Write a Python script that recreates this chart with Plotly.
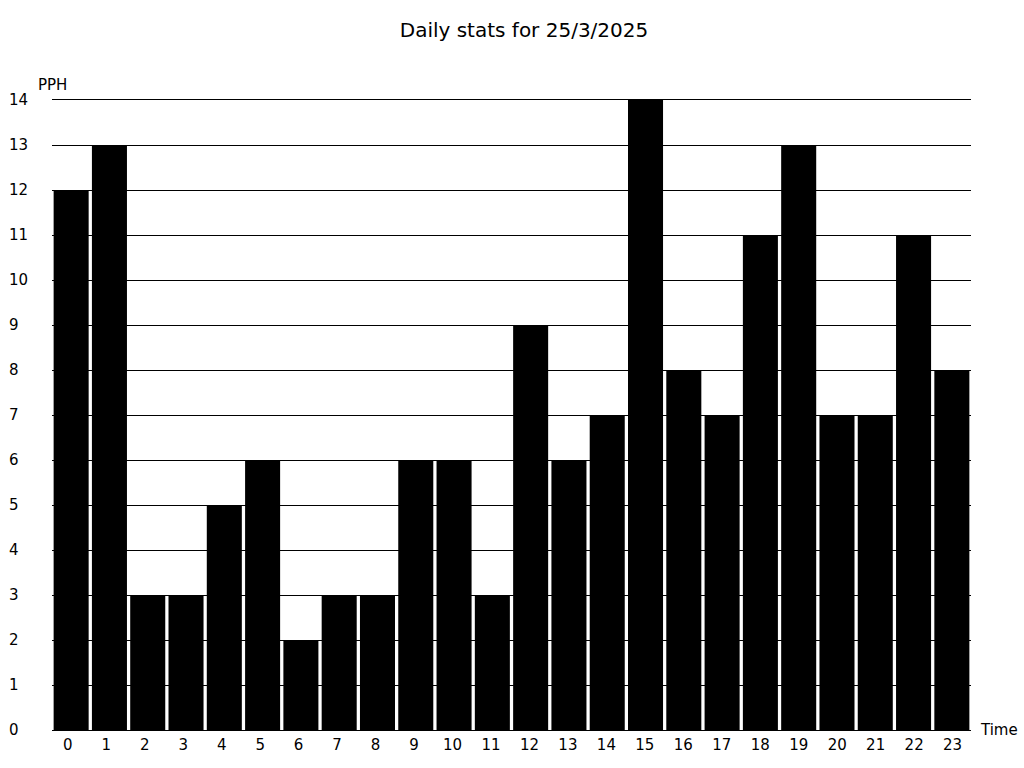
import plotly.graph_objects as go

hours = [str(h) for h in range(24)]
pph = [12, 13, 3, 3, 5, 6, 2, 3, 3, 6, 6, 3, 9, 6, 7, 14, 8, 7, 11, 13, 7, 7, 11, 8]
y_ticks = list(range(15))
y_ticktext = [f"{v}" if v >= 10 else f"{v}\u2007" for v in y_ticks]

FONT = "DejaVu Sans"

fig = go.Figure(
    go.Bar(
        x=hours,
        y=pph,
        marker=dict(color="black", line=dict(width=0)),
        hoverinfo="x+y",
    )
)

fig.update_layout(
    template="none",
    width=1024,
    height=768,
    margin=dict(l=52, r=53, t=100, b=38, pad=0),
    paper_bgcolor="white",
    plot_bgcolor="white",
    bargap=0.085,
    showlegend=False,
    font=dict(family=FONT, size=15, color="black"),
    title=dict(
        text="Daily stats for 25/3/2025",
        x=524 / 1024,
        xanchor="center",
        xref="container",
        y=1 - 30 / 768,
        yanchor="middle",
        yref="container",
        font=dict(family=FONT, size=20, color="black"),
    ),
    xaxis=dict(
        type="category",
        showgrid=False,
        showline=True,
        linecolor="black",
        linewidth=1,
        mirror=True,
        ticks="",
        zeroline=False,
        showticklabels=False,
    ),
    # label axis: labels sit on a slightly wider scale than the bars
    xaxis2=dict(
        overlaying="x",
        side="bottom",
        type="linear",
        range=[-0.4107, 23.478],
        tickmode="array",
        tickvals=list(range(len(hours))),
        ticktext=hours,
        showgrid=False,
        showline=False,
        zeroline=False,
        ticks="",
        tickfont=dict(family=FONT, size=15, color="black"),
        ticklabelstandoff=4,
    ),
    yaxis=dict(
        range=[0, 14],
        tickmode="array",
        tickvals=y_ticks,
        ticktext=y_ticktext,
        showgrid=True,
        gridcolor="black",
        gridwidth=1,
        zeroline=True,
        zerolinecolor="black",
        zerolinewidth=1,
        showline=False,
        ticks="",
        tickfont=dict(family=FONT, size=15, color="black"),
        ticklabelstandoff=23,
    ),
    annotations=[
        dict(
            text="PPH",
            xref="paper", yref="paper",
            x=0, y=1 + 15 / 630,
            xanchor="center", yanchor="middle",
            showarrow=False,
            font=dict(family=FONT, size=15, color="black"),
        ),
        dict(
            text="Time",
            xref="paper", yref="paper",
            x=1 + 7 / 919, y=0,
            xanchor="left", yanchor="middle",
            showarrow=False,
            font=dict(family=FONT, size=15, color="black"),
        ),
    ],
)

# invisible trace so the label axis is drawn
fig.add_trace(
    go.Scatter(
        x=[0, len(hours) - 1], y=[0, 0], xaxis="x2", yaxis="y",
        mode="markers", marker=dict(opacity=0), hoverinfo="skip", showlegend=False,
    )
)

fig.write_html(
    "out.html",
    config={"displayModeBar": False},
    post_script="document.body.style.margin='0';document.body.style.overflow='hidden';",
)
